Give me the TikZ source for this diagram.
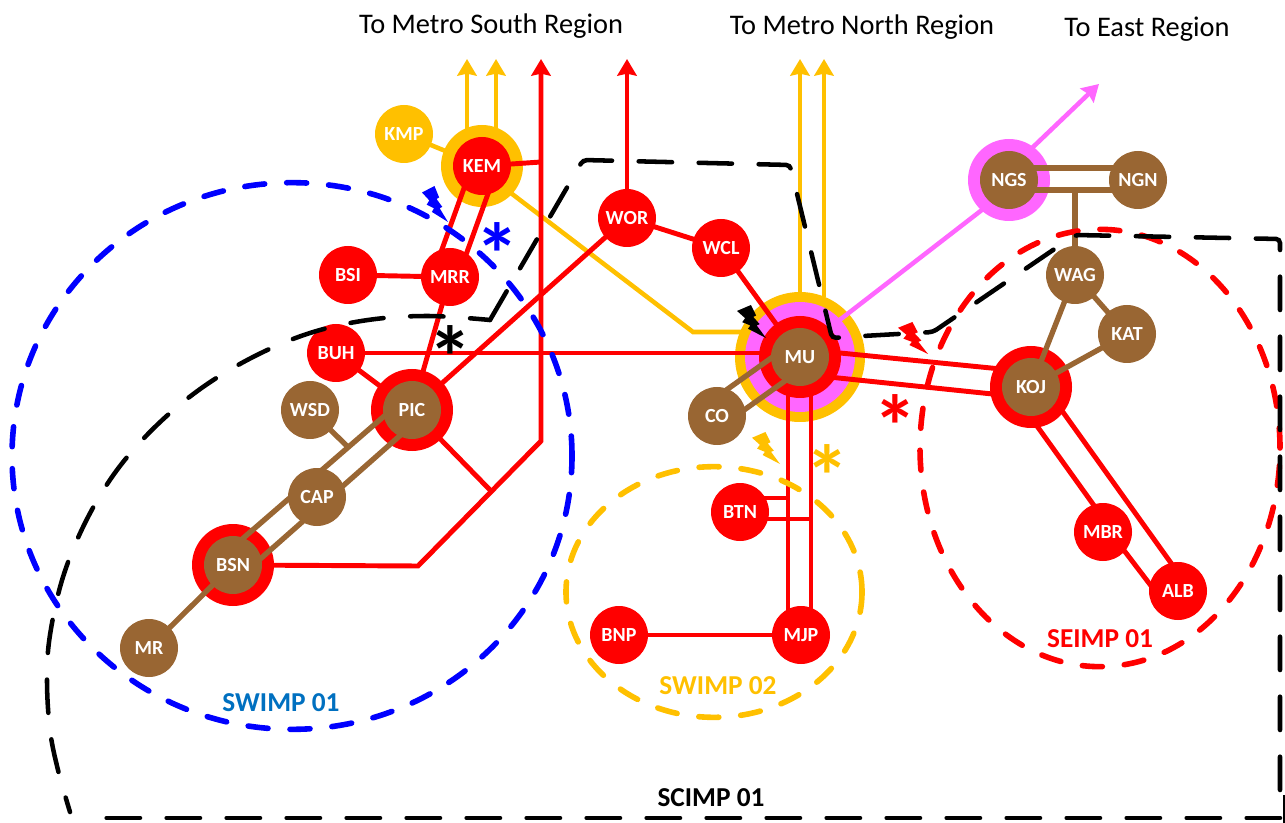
\documentclass[tikz,border=0pt]{standalone}
\usepackage{fontspec}
\setmainfont{Carlito}
\usetikzlibrary{arrows.meta}
\pgfdeclarelayer{ringlayer}
\pgfdeclarelayer{linelayer}
\pgfdeclarelayer{overlayer}
\pgfsetlayers{ringlayer,linelayer,main,overlayer}
\definecolor{cbrown}{HTML}{996633}
\definecolor{camber}{HTML}{FFC000}
\definecolor{cpink}{HTML}{FF66FF}
\definecolor{cred}{HTML}{FF0000}
\definecolor{cblue}{HTML}{0000FF}
\definecolor{cswimp}{HTML}{0070C0}
\tikzset{
  disc/.style={circle,minimum size=43.5pt,inner sep=0pt,text=white,font=\fontsize{15}{17}\bfseries\selectfont},
  rednode/.style={disc,fill=cred},
  brownnode/.style={disc,fill=cbrown},
  ambernode/.style={disc,fill=camber},
  ringnode/.style={circle,inner sep=0pt,minimum size=#1*0.75pt},
  redline/.style={draw=cred,line width=3.7pt},
  brownline/.style={draw=cbrown,line width=4pt},
  amberline/.style={draw=camber,line width=3.4pt},
  pinkline/.style={draw=cpink,line width=3.4pt},
  tip/.style={-{Stealth[length=12.5pt,width=14.5pt,inset=1.5pt]}},
  zone/.style={line width=4.2pt,line cap=round,dash pattern=on 15pt off 16.5pt},
  blackzone/.style={draw=black,line width=3.4pt,line cap=round,dash pattern=on 25pt off 20pt},
  region/.style={text=black,font=\fontsize{21.3}{25}\selectfont},
  zonelabel/.style={font=\fontsize{20.5}{24}\bfseries\selectfont},
  star/.style={inner sep=0pt,font=\fontsize{66}{66}\bfseries\selectfont}
}
\newcommand{\mybolt}[5]{\fill[#1,shift={(#2,#3)},xscale=#4,yscale=#5] (0,.18)--(.48,0)--(.66,.32)--(.56,.36)--(.78,.58)--(.68,.62)--(1,1)--(.38,.72)--(.46,.62)--(.18,.52)--(.28,.4)--cycle;}
\begin{document}
\begin{tikzpicture}[x=0.75pt,y=-0.75pt]
\useasboundingbox (0,0) rectangle (1285,823);

% rings
\begin{pgfonlayer}{ringlayer}
  \node[ringnode=130,fill=camber] (MUamber) at (800,357) {};
  \node[ringnode=110,fill=cpink] (MUpink) at (800,357) {};
  \node[ringnode=82,fill=cred] (MUred) at (800,357) {};
  \node[ringnode=82,fill=camber] (KEMring) at (482,166) {};
  \node[ringnode=82,fill=cred] (PICring) at (412,410) {};
  \node[ringnode=82,fill=cred] (BSNring) at (233,565) {};
  \node[ringnode=82,fill=cred] (KOJring) at (1031,387) {};
  \node[ringnode=82,fill=cpink] (NGSring) at (1009,180) {};
\end{pgfonlayer}

% discs
\node[ambernode] (KMP) at (404,134) {KMP};
\node[rednode] (KEM) at (482,166) {KEM};
\node[rednode] (MRR) at (450,277) {MRR};
\node[rednode] (BSI) at (348,275) {BSI};
\node[rednode] (BUH) at (336,353) {BUH};
\node[brownnode] (PIC) at (412,410) {PIC};
\node[brownnode] (WSD) at (310,410) {WSD};
\node[brownnode] (CAP) at (317,497) {CAP};
\node[brownnode] (BSN) at (233,565) {BSN};
\node[brownnode] (MR) at (149,648) {MR};
\node[rednode] (WOR) at (627,218) {WOR};
\node[rednode] (WCL) at (721,248) {WCL};
\node[brownnode] (MU) at (800,357) {MU};
\node[brownnode] (CO) at (717,416) {CO};
\node[rednode] (BTN) at (740,512) {BTN};
\node[rednode] (BNP) at (619,635) {BNP};
\node[rednode] (MJP) at (801,635) {MJP};
\node[brownnode] (KOJ) at (1031,387) {KOJ};
\node[brownnode] (WAG) at (1075,275) {WAG};
\node[brownnode] (KAT) at (1127,334) {KAT};
\node[brownnode] (NGS) at (1009,180) {NGS};
\node[brownnode] (NGN) at (1138,180) {NGN};
\node[rednode] (MBR) at (1103,532) {MBR};
\node[rednode] (ALB) at (1178,591) {ALB};

% free ends and bends
\coordinate (redcornerA) at (418,566);
\coordinate (redcornerB) at (541,441);
\coordinate (redtopA) at (541,59);
\coordinate (redtopB) at (627,59);
\coordinate (redjoin) at (491,491);
\coordinate (kemjoin) at (541,162);
\coordinate (btnA) at (788,498);
\coordinate (btnB) at (811,519);
\coordinate (btnC) at (788,519);
\coordinate (amberbend) at (693,332);
\coordinate (amberend) at (745,332);
\coordinate (wsdjoin) at (348,447);
\coordinate (pinkend) at (1099,84);
\coordinate (ngsjoin) at (1075,190);
\coordinate (amtopA) at (467,59);
\coordinate (amtopB) at (496,59);
\coordinate (amtopC) at (800,59);
\coordinate (amtopD) at (824,59);

\begin{pgfonlayer}{linelayer}
  % amber
  \draw[amberline] (KMP.center) -- (KEM.center);
  \draw[amberline,tip] ([shift={(-15,4)}]KEMring.north) -- (amtopA);
  \draw[amberline,tip] ([shift={(14,4)}]KEMring.north) -- (amtopB);
  \draw[amberline] ([shift={(0,5)}]KEM.center) -- (amberbend) -- (amberend);
  \draw[amberline,tip] (MUamber.north) -- (amtopC);
  \draw[amberline,tip] ([shift={(24,5)}]MUamber.north) -- (amtopD);
  % pink
  \draw[pinkline] ([shift={(37,-35)}]MU.center) -- ([shift={(0,9)}]NGS.center);
  \draw[pinkline,tip] ([shift={(0,-10)}]NGS.center) -- (pinkend);
  % red
  \draw[redline] ([shift={(-10,0)}]KEM.center) -- ([shift={(-18,0)}]MRR.center);
  \draw[redline] ([shift={(16,0)}]KEM.center) -- ([shift={(8,0)}]MRR.center);
  \draw[redline] (BSI.center) -- (MRR.center);
  \draw[redline] (MRR.center) -- (PIC.center);
  \draw[redline] (BUH.center) -- (PIC.center);
  \draw[redline] (BUH.center) -- ([shift={(0,-4)}]MU.center);
  \draw[redline] (PIC.center) -- (WOR.center);
  \draw[redline,tip] (WOR.center) -- (redtopB);
  \draw[redline] (WOR.center) -- (WCL.center);
  \draw[redline] (WCL.center) -- (MU.center);
  \draw[redline,tip] (BSN.center) -- (redcornerA) -- (redcornerB) -- (redtopA);
  \draw[redline] (KEM.center) -- (kemjoin);
  \draw[redline] (PIC.center) -- (redjoin);
  \draw[redline] ([shift={(-12,0)}]MU.center) -- ([shift={(-13,0)}]MJP.center);
  \draw[redline] ([shift={(11,0)}]MU.center) -- ([shift={(10,0)}]MJP.center);
  \draw[redline] ([shift={(0,-14)}]BTN.center) -- (btnA);
  \draw[redline] ([shift={(0,7)}]BTN.center) -- (btnC) -- (btnB);
  \draw[redline] (BNP.center) -- (MJP.center);
  \draw[redline] ([shift={(0,-8)}]MU.center) -- ([shift={(0,-15)}]KOJ.center);
  \draw[redline] ([shift={(0,17)}]MU.center) -- ([shift={(0,11)}]KOJ.center);
  \draw[redline] ([shift={(-22,0)}]KOJ.center) -- ([shift={(10,0)}]MBR.center);
  \draw[redline] ([shift={(7,0)}]MBR.center) -- ([shift={(-23,0)}]ALB.center);
  \draw[redline] ([shift={(14,0)}]KOJ.center) -- ([shift={(13,0)}]ALB.center);
  % brown
  \draw[brownline] ([shift={(-9,-13)}]MU.center) -- ([shift={(-9,-13)}]CO.center);
  \draw[brownline] ([shift={(6,9)}]MU.center) -- ([shift={(6,9)}]CO.center);
  \draw[brownline] ([shift={(0,-18)}]PIC.center) -- ([shift={(0,-18)}]BSN.center);
  \draw[brownline] ([shift={(0,15)}]PIC.center) -- ([shift={(0,18)}]BSN.center);
  \draw[brownline] (WSD.center) -- (wsdjoin);
  \draw[brownline] (BSN.center) -- (MR.center);
  \draw[brownline] ([shift={(0,-12)}]NGS.center) -- ([shift={(0,-12)}]NGN.center);
  \draw[brownline] ([shift={(0,10)}]NGS.center) -- ([shift={(0,10)}]NGN.center);
  \draw[brownline] (ngsjoin) -- (WAG.center);
  \draw[brownline] (WAG.center) -- (KAT.center);
  \draw[brownline] (WAG.center) -- (KOJ.center);
  \draw[brownline] (KAT.center) -- (KOJ.center);
\end{pgfonlayer}

\begin{pgfonlayer}{overlayer}
  % dashed zones
  \draw[zone,draw=cblue] (292,456) ellipse [x radius=210pt,y radius=205pt];
  \draw[zone,draw=camber] (714,592) ellipse [x radius=111pt,y radius=94pt];
  \draw[zone,draw=cred] (1100,448) ellipse [x radius=135pt,y radius=164pt];
  \draw[blackzone,rounded corners=3pt] (1280,790) -- (1280,239) -- (1075,235) -- (933,332) -- (863,336) -- (832,338) -- (790,165) -- (583,160) -- (490,320);
  \draw[blackzone,dash phase=10pt] plot[smooth,tension=.6] coordinates {(490,320) (428,316) (368,320) (310,333) (255,356) (203,387) (157,425) (117,470) (86,521) (63,577) (50,635) (47,680) (50,730) (58,770) (70,812)};
  \draw[blackzone] (1280,818) -- (98,818);
  \draw[black,line width=1pt] (1284,795) -- (1284,823);
  % bolts
  \mybolt{cblue}{422}{186}{26}{36}
  \mybolt{black}{737}{305}{29}{33}
  \mybolt{cred}{898}{322}{30}{32}
  \mybolt{camber}{752}{432}{28}{32}
\end{pgfonlayer}

% stars
\node[star,text=cblue] (starblue) at (497,254) {*};
\node[star,text=black] (starblack) at (450,357) {*};
\node[star,text=cred] (starred) at (895,426) {*};
\node[star,text=camber] (staramber) at (827,476) {*};

% labels
\node[region] (south) at (491,26) {To Metro South Region};
\node[region] (north) at (862,27) {To Metro North Region};
\node[region] (east) at (1147,29) {To East Region};
\node[zonelabel,text=cswimp] (swimpA) at (281,703) {SWIMP 01};
\node[zonelabel,text=camber] (swimpB) at (718,686) {SWIMP 02};
\node[zonelabel,text=cred] (seimp) at (1100,639) {SEIMP 01};
\node[zonelabel,text=black] (scimp) at (711,798) {SCIMP 01};
\end{tikzpicture}
\end{document}
